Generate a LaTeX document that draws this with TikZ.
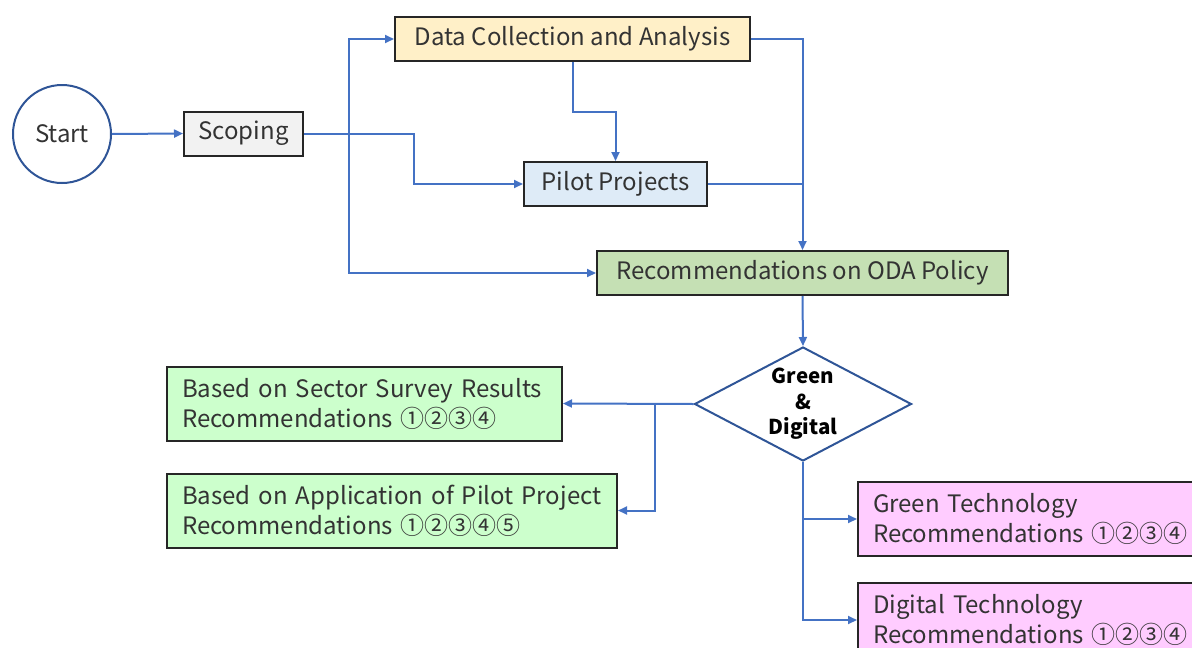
\documentclass[tikz,border=0pt]{standalone}
\usepackage{fontspec}
\setmainfont{Noto Sans CJK JP}
\usetikzlibrary{shapes.geometric,arrows.meta}
\definecolor{flow}{HTML}{4472C4}
\definecolor{ring}{HTML}{2F5597}
\definecolor{ink}{HTML}{333333}
\definecolor{datafill}{HTML}{FFF0C8}
\definecolor{scopefill}{HTML}{F2F2F2}
\definecolor{pilotfill}{HTML}{DEEBF7}
\definecolor{odafill}{HTML}{C5E0B4}
\definecolor{recfill}{HTML}{CCFFCC}
\definecolor{techfill}{HTML}{FFCCFF}
\begin{document}
\begin{tikzpicture}[x=1pt,y=-1pt,
  txt/.style={font=\fontsize{24}{30}\selectfont,text=ink},
  box/.style={txt,draw=black!85,line width=2pt,minimum height=44pt,inner sep=0pt},
  tallbox/.style={box,minimum height=74pt,align=left,inner xsep=15pt},
  flowline/.style={draw=flow,line width=2pt},
  arr/.style={flowline,-{Triangle[length=9pt,width=8pt]}},
  decision/.style={diamond,draw=ring,line width=2pt,fill=white,minimum width=217pt,minimum height=114pt,inner sep=0pt}]
\useasboundingbox (0,0) rectangle (1192,648);
\clip (0,0) rectangle (1192,648);

% main flow
\node[circle,draw=ring,line width=2pt,minimum size=98pt,inner sep=0pt,txt] (start) at (62,134) {Start};
\node[box,fill=scopefill,minimum width=119pt] (scope) at (243.5,133.5) {Scoping};
\node[box,fill=datafill,minimum width=355pt] (data) at (572.5,39) {Data Collection and Analysis};
\node[box,fill=pilotfill,minimum width=183pt] (pilot) at (615.5,184) {Pilot Projects};
\node[box,fill=odafill,minimum width=411pt] (oda) at (802.5,273) {Recommendations on ODA Policy};
\node[decision] (gd) at (803,404) {};
\node[font=\fontsize{20.5}{25.5}\selectfont\bfseries,text=black,align=center] (gdtext) at (gd) {Green\\\&\\Digital};

% outcome boxes
\node[tallbox,fill=recfill,text width=365pt] (sector) at (364.5,403.5)
  {Based on Sector Survey Results\\Recommendations ①②③④};
\node[tallbox,fill=recfill,text width=420pt] (papp) at (392,510.5)
  {Based on Application of Pilot Project\\Recommendations ①②③④⑤};
\node[tallbox,fill=techfill,text width=330pt] (green) at (1038,519)
  {Green Technology\\Recommendations ①②③④};
\node[tallbox,fill=techfill,text width=330pt] (digital) at (1038,620)
  {Digital Technology\\Recommendations ①②③④};

% junctions
\coordinate (split) at (349,133.5);
\coordinate (bend) at (414,133.5);
\coordinate (drop) at (572.5,112);
\coordinate (fork) at (655,404);

% connectors
\draw[arr] (start.east) -- (scope.west);
\draw[arr] (scope.east) -- (bend) |- (pilot.west);
\draw[arr] (split) |- (data.west);
\draw[arr] (split) |- (oda.west);
\draw[arr] (data.south) -- (drop) -| (pilot.north);
\draw[arr] (data.east) -| (oda.north);
\draw[flowline] (pilot.east) -- (pilot.east -| oda.north);
\draw[arr] (oda.south) -- (gd.north);
\draw[arr] (gd.west) -- (sector.east);
\draw[arr] (fork) |- (papp.east);
\draw[arr] (gd.south) |- (green.west);
\draw[arr] (gd.south) |- (digital.west);
\end{tikzpicture}
\end{document}
